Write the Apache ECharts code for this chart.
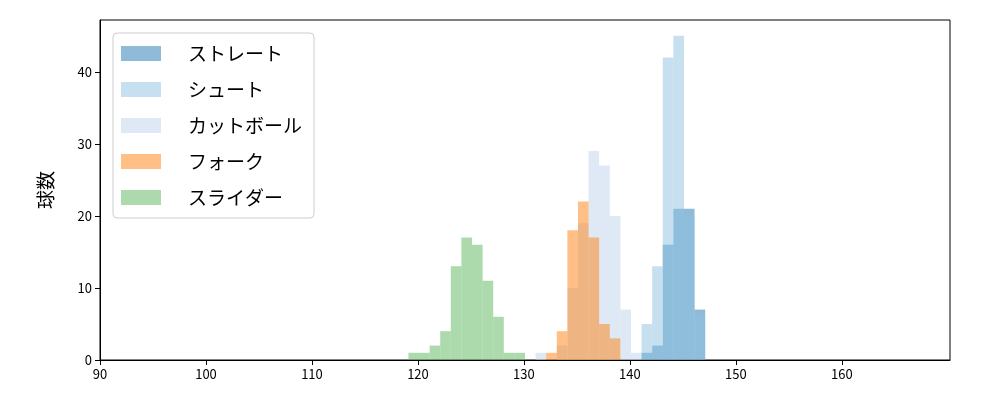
<!DOCTYPE html>
<html>
<head>
<meta charset="utf-8">
<script src="https://cdn.jsdelivr.net/npm/echarts@6/dist/echarts.min.js"></script>
<style>html,body{margin:0;padding:0;background:#fff}#c{width:1000px;height:400px}</style>
</head>
<body>
<div id="c"></div>
<script>
// histogram bins: start of first bin, bin width, counts
const names = ['ストレート', 'シュート', 'カットボール', 'フォーク', 'スライダー'];
const colors = ['#1f77b4', '#8fc1e0', '#bed4ec', '#ff7f0e', '#5ab55a'];
const binStart = [141.1, 141.1, 131.1, 132.1, 119.1];
const binWidth = [1.0, 1.0, 1.0, 1.0, 1.0];
const counts = [
  [1, 2, 16, 21, 21, 7],
  [5, 13, 42, 45, 20, 6],
  [1, 0, 2, 10, 19, 29, 27, 20, 7, 1],
  [1, 4, 18, 22, 17, 5, 3],
  [1, 1, 2, 4, 13, 17, 16, 11, 6, 1, 1]
];
const xTicks = [90, 100, 110, 120, 130, 140, 150, 160];
const yTicks = [0, 10, 20, 30, 40];

const font = "'Noto Sans CJK JP', 'DejaVu Sans', sans-serif";
const chart = echarts.init(document.getElementById('c'));

const series = names.map((name, s) => ({
  name, type: 'custom',
  itemStyle: { color: colors[s], opacity: 0.5 },
  data: counts[s].map((c, i) => [binStart[s] + i * binWidth[s], binStart[s] + (i + 1) * binWidth[s], c]),
  encode: { x: [0, 1], y: 2 },
  renderItem: (params, api) => {
    const p0 = api.coord([api.value(0), api.value(2)]);
    const p1 = api.coord([api.value(1), 0]);
    return {
      type: 'rect',
      shape: { x: p0[0], y: p0[1], width: p1[0] - p0[0], height: p1[1] - p0[1] },
      style: { fill: colors[s], opacity: 0.5 }
    };
  }
}));

chart.setOption({
  animation: false,
  grid: { left: 100, right: 50, top: 20, bottom: 40, show: true, borderColor: '#000', borderWidth: 1 },
  legend: {
    data: names, orient: 'vertical', left: 113, top: 33,
    itemWidth: 40, itemHeight: 15, itemGap: 17,
    padding: [11, 12, 11, 8],
    borderColor: '#ccc', borderWidth: 1, borderRadius: 4,
    textStyle: { fontSize: 19, fontFamily: font, color: '#000', padding: [0, 0, 0, 22] },
    icon: 'rect'
  },
  xAxis: {
    type: 'value', min: 90, max: 170.2, interval: 10,
    splitLine: { show: false },
    axisLine: { lineStyle: { color: '#000' } },
    axisTick: { lineStyle: { color: '#000' }, length: 5, customValues: xTicks },
    axisLabel: { color: '#000', fontSize: 13, fontFamily: font, customValues: xTicks }
  },
  yAxis: {
    type: 'value', min: 0, max: 47.2, interval: 10,
    name: '球数', nameLocation: 'middle', nameGap: 45,
    nameTextStyle: { fontSize: 19, fontFamily: font, color: '#000' },
    splitLine: { show: false },
    axisLine: { show: true, lineStyle: { color: '#000' } },
    axisTick: { show: true, lineStyle: { color: '#000' }, length: 5, customValues: yTicks },
    axisLabel: { color: '#000', fontSize: 13, fontFamily: font, customValues: yTicks }
  },
  series
});
</script>
</body>
</html>
